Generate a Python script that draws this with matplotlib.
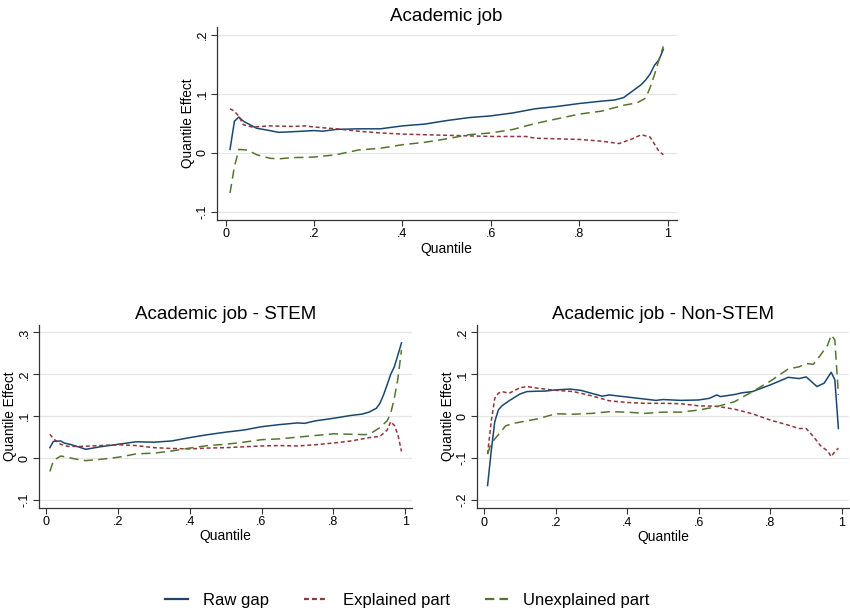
import numpy as np
import matplotlib
matplotlib.use('Agg')
import matplotlib.pyplot as plt
from matplotlib.lines import Line2D

plt.rcParams['font.family'] = ['Liberation Sans', 'DejaVu Sans']

# Colours (Stata s2color-like)
c_raw = '#1a476f'
c_exp = '#90353b'
c_unx = '#55752f'

# ---- Academic job ----
all_q_raw = [0.01, 0.02, 0.03, 0.04, 0.05, 0.07, 0.10, 0.12, 0.15, 0.20, 0.22, 0.25, 0.30, 0.35, 0.40,
             0.45, 0.50, 0.55, 0.60, 0.65, 0.70, 0.75, 0.80, 0.85, 0.88, 0.90, 0.92, 0.94, 0.95, 0.96,
             0.97, 0.98, 0.99]
all_raw = [0.006, 0.054, 0.061, 0.054, 0.050, 0.042, 0.038, 0.035, 0.036, 0.038, 0.037, 0.040, 0.041,
           0.041, 0.046, 0.049, 0.055, 0.060, 0.063, 0.068, 0.075, 0.079, 0.084, 0.088, 0.090, 0.094,
           0.105, 0.116, 0.124, 0.134, 0.149, 0.158, 0.176]
all_q_exp = [0.01, 0.02, 0.03, 0.04, 0.06, 0.10, 0.15, 0.18, 0.20, 0.25, 0.30, 0.35, 0.40, 0.45, 0.50,
             0.55, 0.60, 0.65, 0.68, 0.70, 0.75, 0.80, 0.85, 0.89, 0.92, 0.94, 0.96, 0.98, 0.99]
all_exp = [0.075, 0.071, 0.062, 0.048, 0.044, 0.046, 0.045, 0.046, 0.044, 0.041, 0.037, 0.034, 0.032,
           0.031, 0.030, 0.029, 0.028, 0.028, 0.028, 0.025, 0.024, 0.023, 0.020, 0.016, 0.024, 0.031,
           0.027, 0.003, -0.003]
all_q_unx = [0.01, 0.02, 0.03, 0.05, 0.07, 0.10, 0.12, 0.15, 0.20, 0.25, 0.30, 0.35, 0.40, 0.45, 0.50,
             0.55, 0.60, 0.65, 0.70, 0.75, 0.80, 0.85, 0.90, 0.93, 0.95, 0.96, 0.97, 0.98, 0.99]
all_unx = [-0.068, -0.023, 0.006, 0.005, -0.003, -0.009, -0.010, -0.008, -0.007, -0.003, 0.005, 0.008,
           0.014, 0.018, 0.024, 0.031, 0.034, 0.040, 0.050, 0.058, 0.066, 0.071, 0.081, 0.085, 0.093,
           0.111, 0.133, 0.158, 0.181]

# ---- Academic job - STEM ----
stem_q_raw = [0.01, 0.02, 0.04, 0.05, 0.07, 0.10, 0.11, 0.13, 0.15, 0.20, 0.25, 0.30, 0.35, 0.40, 0.45,
              0.50, 0.55, 0.60, 0.65, 0.70, 0.72, 0.75, 0.80, 0.85, 0.88, 0.90, 0.92, 0.93, 0.94, 0.95,
              0.96, 0.97, 0.98, 0.99]
stem_raw = [0.025, 0.040, 0.041, 0.036, 0.032, 0.024, 0.021, 0.024, 0.027, 0.033, 0.039, 0.038, 0.041,
            0.049, 0.056, 0.062, 0.067, 0.075, 0.080, 0.084, 0.083, 0.089, 0.095, 0.102, 0.105, 0.110,
            0.119, 0.131, 0.151, 0.175, 0.200, 0.218, 0.246, 0.275]
stem_q_exp = [0.01, 0.02, 0.04, 0.06, 0.10, 0.15, 0.20, 0.25, 0.30, 0.35, 0.40, 0.45, 0.50, 0.55, 0.60,
              0.65, 0.70, 0.75, 0.80, 0.85, 0.90, 0.93, 0.95, 0.96, 0.97, 0.98, 0.99]
stem_exp = [0.057, 0.046, 0.033, 0.028, 0.028, 0.030, 0.032, 0.030, 0.025, 0.023, 0.022, 0.024, 0.025,
            0.027, 0.029, 0.030, 0.029, 0.032, 0.036, 0.041, 0.049, 0.052, 0.067, 0.087, 0.078, 0.056,
            0.016]
stem_q_unx = [0.01, 0.02, 0.04, 0.06, 0.08, 0.11, 0.15, 0.20, 0.25, 0.30, 0.35, 0.40, 0.45, 0.50, 0.55,
              0.60, 0.65, 0.70, 0.75, 0.80, 0.85, 0.89, 0.91, 0.93, 0.95, 0.96, 0.97, 0.98, 0.99]
stem_unx = [-0.032, -0.006, 0.005, 0.002, -0.002, -0.006, -0.003, 0.002, 0.010, 0.012, 0.017, 0.024,
            0.030, 0.033, 0.038, 0.044, 0.046, 0.050, 0.054, 0.058, 0.057, 0.056, 0.062, 0.073, 0.089,
            0.107, 0.143, 0.190, 0.258]

# ---- Academic job - Non-STEM ----
nstem_q_raw = [0.01, 0.02, 0.03, 0.04, 0.05, 0.07, 0.10, 0.12, 0.15, 0.17, 0.20, 0.24, 0.27, 0.30, 0.33,
               0.35, 0.40, 0.45, 0.48, 0.50, 0.55, 0.60, 0.63, 0.65, 0.66, 0.70, 0.72, 0.75, 0.80, 0.85,
               0.88, 0.90, 0.93, 0.95, 0.97, 0.98, 0.99]
nstem_raw = [-0.165, -0.084, -0.013, 0.015, 0.025, 0.037, 0.053, 0.059, 0.060, 0.060, 0.063, 0.065,
             0.062, 0.055, 0.048, 0.051, 0.046, 0.041, 0.038, 0.040, 0.038, 0.039, 0.043, 0.051, 0.047,
             0.052, 0.056, 0.059, 0.075, 0.093, 0.090, 0.094, 0.071, 0.079, 0.105, 0.087, -0.029]
nstem_q_exp = [0.01, 0.02, 0.03, 0.04, 0.05, 0.07, 0.10, 0.12, 0.15, 0.20, 0.25, 0.30, 0.35, 0.40, 0.45,
               0.50, 0.55, 0.60, 0.65, 0.70, 0.75, 0.80, 0.85, 0.88, 0.90, 0.92, 0.94, 0.96, 0.97, 0.98,
               0.99]
nstem_exp = [-0.090, -0.013, 0.043, 0.055, 0.059, 0.055, 0.068, 0.071, 0.067, 0.062, 0.059, 0.049, 0.037,
             0.033, 0.031, 0.031, 0.030, 0.025, 0.024, 0.017, 0.006, -0.009, -0.021, -0.029, -0.029,
             -0.048, -0.070, -0.083, -0.096, -0.084, -0.076]
nstem_q_unx = [0.01, 0.02, 0.04, 0.06, 0.08, 0.10, 0.15, 0.20, 0.25, 0.30, 0.35, 0.40, 0.45, 0.50, 0.55,
               0.60, 0.65, 0.70, 0.75, 0.80, 0.85, 0.88, 0.90, 0.92, 0.94, 0.96, 0.97, 0.98, 0.99]
nstem_unx = [-0.090, -0.064, -0.044, -0.023, -0.017, -0.014, -0.006, 0.006, 0.005, 0.007, 0.011, 0.010,
             0.007, 0.010, 0.010, 0.015, 0.023, 0.035, 0.059, 0.084, 0.113, 0.118, 0.126, 0.124, 0.146,
             0.170, 0.194, 0.182, 0.051]

x_ticks = [0, 0.2, 0.4, 0.6, 0.8, 1]
legend_labels = ['Raw gap', 'Explained part', 'Unexplained part']


def stata_fmt(v):
    s = ('%g' % round(v, 3))
    if s.startswith('0.'):
        s = s[1:]
    elif s.startswith('-0.'):
        s = '-' + s[2:]
    return s


def panel(ax, title, series, yticks, ylim):
    (qr, r), (qe, e), (qu, u) = series
    ax.plot(qr, r, color=c_raw, lw=1.1, solid_joinstyle='round')
    ax.plot(qe, e, color=c_exp, lw=1.1, dashes=(2.6, 1.8))
    ax.plot(qu, u, color=c_unx, lw=1.1, dashes=(6, 3.5))
    ax.set_xlim(-0.02, 1.02)
    ax.set_ylim(*ylim)
    ax.set_xticks(x_ticks)
    ax.set_xticklabels([stata_fmt(v) for v in x_ticks])
    ax.set_yticks(yticks)
    ax.set_yticklabels([stata_fmt(v) for v in yticks], rotation=90, va='center')
    ax.grid(axis='y', color='#e6e6e6', lw=0.9)
    ax.set_axisbelow(True)
    for s in ['top', 'right']:
        ax.spines[s].set_visible(False)
    for s in ['left', 'bottom']:
        ax.spines[s].set_color('#333333')
        ax.spines[s].set_linewidth(0.9)
    ax.tick_params(direction='out', length=4, width=0.8, color='#333333', labelsize=9, pad=2)
    ax.set_xlabel('Quantile', fontsize=10, labelpad=1)
    ax.set_ylabel('Quantile Effect', fontsize=9.8, labelpad=1)
    ax.set_title(title, fontsize=13.5, pad=4)


fig = plt.figure(figsize=(8.5, 6.13), dpi=100, facecolor='white')

ax1 = fig.add_axes([0.255, 0.641, 0.541, 0.315])
panel(ax1, 'Academic job',
      [(all_q_raw, all_raw), (all_q_exp, all_exp), (all_q_unx, all_unx)],
      [-0.1, 0, 0.1, 0.2], (-0.114, 0.214))

ax2 = fig.add_axes([0.046, 0.172, 0.439, 0.298])
panel(ax2, 'Academic job - STEM',
      [(stem_q_raw, stem_raw), (stem_q_exp, stem_exp), (stem_q_unx, stem_unx)],
      [-0.1, 0, 0.1, 0.2, 0.3], (-0.118, 0.318))

ax3 = fig.add_axes([0.561, 0.171, 0.438, 0.299])
panel(ax3, 'Academic job - Non-STEM',
      [(nstem_q_raw, nstem_raw), (nstem_q_exp, nstem_exp), (nstem_q_unx, nstem_unx)],
      [-0.2, -0.1, 0, 0.1, 0.2], (-0.219, 0.218))

# legend handles drawn a bit heavier, like the Stata key
handles = [Line2D([], [], color=c_raw, lw=1.6),
           Line2D([], [], color=c_exp, lw=1.6, dashes=(2.2, 1.4)),
           Line2D([], [], color=c_unx, lw=1.6, dashes=(4.2, 2.3))]
fig.legend(handles, legend_labels, loc='center', bbox_to_anchor=(0.479, 0.021), ncol=3, frameon=False,
           fontsize=12, handlelength=1.4, handletextpad=0.9, columnspacing=2.1)

plt.savefig('out.png', dpi=100, facecolor='white')
